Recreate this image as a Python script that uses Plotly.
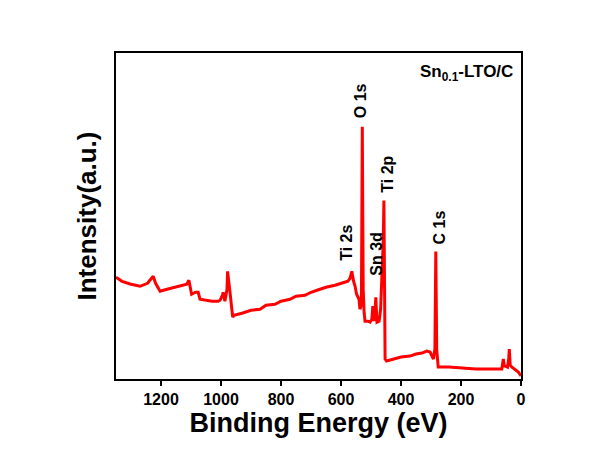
import plotly.graph_objects as go

binding_energy = [1350, 1330, 1300, 1270, 1245, 1232, 1226, 1218, 1203, 1180, 1150, 1125, 1114, 1107, 1100, 1098,
                  1085, 1076, 1070, 1050, 1030, 1010, 1003, 995, 993, 987, 980, 978, 974, 970, 961, 957,
                  930, 900, 870, 850, 820, 800, 770, 750, 720, 700, 680, 650, 620, 600, 592, 577, 570, 564,
                  558, 553, 548, 540, 537, 532, 529, 526, 523, 520, 510, 503, 497, 494, 491, 490, 486, 484,
                  481, 480, 473, 468, 465, 462, 459, 457, 455, 453, 448, 420, 400, 370, 350, 330, 314, 303,
                  292, 287, 284, 281, 276, 240, 200, 150, 100, 64, 59, 55, 53, 45, 41, 39, 36, 31, 20, 9, 0]
intensity = [102, 98, 95, 93, 96, 101, 103, 96, 88, 90, 92, 94, 95, 99, 90, 85,
             87, 87, 80, 79, 78, 78, 79, 84, 87, 78, 90, 108, 95, 87, 62, 64,
             66, 69, 70, 74, 75, 78, 80, 83, 84, 87, 89, 92, 94, 96, 97, 98, 101, 108,
             98, 93, 85, 80, 70, 75, 253, 90, 67, 58, 58, 57, 60, 73, 62, 58, 70, 82,
             62, 57, 58, 70, 93, 110, 140, 179, 60, 20, 18, 20, 22, 23, 25, 26, 28, 27,
             20, 30, 128, 30, 12, 12, 11, 10, 10, 10, 20, 12, 13, 12, 20, 30, 14, 12, 9, 7, 3]

peak_labels = ["O 1s", "Ti 2p", "C 1s", "Ti 2s", "Sn 3d"]
peak_label_x = [537, 448, 273, 582, 482]
peak_label_y = [260, 185, 133, 117, 102]

FONT = "Liberation Sans, Arial, sans-serif"

fig = go.Figure()
fig.add_trace(go.Scatter(x=binding_energy, y=intensity, mode="lines",
                         line=dict(color="#ff0000", width=3), showlegend=False))

for t, xv, yv in zip(peak_labels, peak_label_x, peak_label_y):
    fig.add_annotation(x=xv, y=yv, xref="x", yref="y", text="<b>" + t + "</b>",
                       textangle=-90, showarrow=False, xanchor="center", yanchor="bottom",
                       font=dict(family=FONT, size=16, color="black"))

fig.add_annotation(x=0.985, y=0.94, xref="paper", yref="paper",
                   text="<b>Sn<sub>0.1</sub>-LTO/C</b>", showarrow=False,
                   xanchor="right", yanchor="middle",
                   font=dict(family=FONT, size=17, color="black"))

fig.update_layout(
    width=589, height=451,
    margin=dict(l=116, r=68, t=53, b=72),
    paper_bgcolor="white", plot_bgcolor="white",
    font=dict(family=FONT, color="black"),
    xaxis=dict(range=[1350, 0], tickvals=[1200, 1000, 800, 600, 400, 200, 0],
               ticks="outside", ticklen=5, tickwidth=1.5, tickcolor="black",
               showline=True, linecolor="black", linewidth=1.5, mirror=True,
               showgrid=False, zeroline=False,
               tickfont=dict(family=FONT, size=16, color="black", weight="bold"),
               title=dict(text="<b>Binding Energy (eV)</b>", standoff=4,
                          font=dict(family=FONT, size=27, color="black"))),
    yaxis=dict(range=[0, 327], showticklabels=False, ticks="",
               showline=True, linecolor="black", linewidth=1.5, mirror=True,
               showgrid=False, zeroline=False,
               title=dict(text="<b>Intensity(a.u.)</b>", standoff=10,
                          font=dict(family=FONT, size=26, color="black"))),
)

fig.write_html("out.html")
